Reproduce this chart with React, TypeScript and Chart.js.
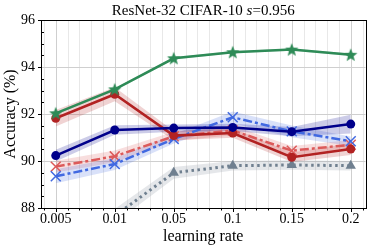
import React, { useEffect, useRef } from 'react';
import { Chart, registerables } from 'chart.js';

Chart.register(...registerables);

const SERIF = "'Liberation Serif', 'DejaVu Serif', 'Times New Roman', serif";

const categories = ['0.005', '0.01', '0.05', '0.1', '0.15', '0.2'];
const yTickValues = [88, 90, 92, 94, 96];

const greenMean = [92.03, 93.05, 94.37, 94.63, 94.74, 94.52];
const greenStd = [0.05, 0.05, 0.05, 0.05, 0.05, 0.05];

const redMean = [91.82, 92.84, 91.08, 91.19, 90.16, 90.51];
const redStd = [0.35, 0.3, 0.2, 0.2, 0.2, 0.25];

const navyMean = [90.23, 91.32, 91.4, 91.43, 91.25, 91.57];
const navyStd = [0.25, 0.2, 0.15, 0.15, 0.2, 0.4];

const blueMean = [89.35, 89.87, 90.94, 91.86, 91.26, 90.84];
const blueStd = [0.3, 0.25, 0.2, 0.25, 0.25, 0.2];

const lightRedMean = [89.76, 90.2, 91.05, 91.3, 90.44, 90.69];
const lightRedStd = [0.25, 0.25, 0.2, 0.2, 0.2, 0.2];

const grayMean = [86.5, 87.66, 89.5, 89.8, 89.83, 89.8];
const grayStd = [0.3, 0.3, 0.25, 0.2, 0.2, 0.2];

function makeStar(color: string, outer: number, inner: number) {
  const c = document.createElement('canvas');
  const s = Math.ceil(outer * 2 + 2);
  c.width = s;
  c.height = s;
  const ctx = c.getContext('2d')!;
  ctx.translate(s / 2, s / 2 + 0.5);
  ctx.beginPath();
  for (let i = 0; i < 10; i++) {
    const r = i % 2 === 0 ? outer : inner;
    const a = -Math.PI / 2 + (i * Math.PI) / 5;
    const x = r * Math.cos(a);
    const y = r * Math.sin(a);
    if (i === 0) ctx.moveTo(x, y);
    else ctx.lineTo(x, y);
  }
  ctx.closePath();
  ctx.fillStyle = color;
  ctx.fill();
  return c;
}

type Series = {
  mean: number[];
  std: number[];
  color: string;
  band: string;
  dash: number[];
  pointStyle: any;
  radius: number;
  pointBorder: number;
  width: number;
  order: number;
};

function buildDatasets(series: Series[]) {
  const ds: any[] = [];
  series.forEach((s) => {
    const upper = s.mean.map((m, i) => ({ x: i, y: m + s.std[i] }));
    const lower = s.mean.map((m, i) => ({ x: i, y: m - s.std[i] }));
    ds.push({
      data: upper,
      borderWidth: 0,
      borderColor: 'transparent',
      pointRadius: 0,
      fill: false,
      order: 100 + s.order,
    });
    ds.push({
      data: lower,
      borderWidth: 0,
      borderColor: 'transparent',
      pointRadius: 0,
      fill: '-1',
      backgroundColor: s.band,
      order: 100 + s.order,
    });
    ds.push({
      data: s.mean.map((m, i) => ({ x: i, y: m })),
      borderColor: s.color,
      backgroundColor: s.color,
      borderWidth: s.width,
      borderDash: s.dash,
      pointStyle: s.pointStyle,
      pointRadius: s.radius,
      pointBorderWidth: s.pointBorder,
      pointBorderColor: s.color,
      pointBackgroundColor: s.color,
      fill: false,
      order: s.order,
    });
  });
  return ds;
}

const gridPlugin = {
  id: 'mplGrid',
  beforeDatasetsDraw(chart: any) {
    const { ctx, chartArea: a, scales } = chart;
    const xs = scales.x;
    const ys = scales.y;
    ctx.save();
    ctx.strokeStyle = '#e8e8e8';
    ctx.lineWidth = 1;
    for (let i = -1; i <= categories.length; i++) {
      for (let k = 1; k < 5; k++) {
        const v = i + k / 5;
        if (v <= xs.min || v >= xs.max) continue;
        const px = Math.round(xs.getPixelForValue(v)) + 0.5;
        ctx.beginPath();
        ctx.moveTo(px, a.top);
        ctx.lineTo(px, a.bottom);
        ctx.stroke();
      }
    }
    ctx.strokeStyle = '#cfcfcf';
    categories.forEach((_, i) => {
      const px = Math.round(xs.getPixelForValue(i)) + 0.5;
      ctx.beginPath();
      ctx.moveTo(px, a.top);
      ctx.lineTo(px, a.bottom);
      ctx.stroke();
    });
    yTickValues.forEach((v) => {
      const py = Math.round(ys.getPixelForValue(v)) + 0.5;
      ctx.beginPath();
      ctx.moveTo(a.left, py);
      ctx.lineTo(a.right, py);
      ctx.stroke();
    });
    ctx.restore();
  },
  afterDatasetsDraw(chart: any) {
    const { ctx, chartArea: a, scales } = chart;
    const xs = scales.x;
    const ys = scales.y;
    ctx.save();
    ctx.strokeStyle = '#000';
    ctx.lineWidth = 1;
    const L = Math.round(a.left) + 0.5;
    const R = Math.round(a.right) + 0.5;
    const T = Math.round(a.top) + 0.5;
    const B = Math.round(a.bottom) + 0.5;
    ctx.strokeRect(L, T, R - L, B - T);
    for (let v = yTickValues[0]; v <= yTickValues[yTickValues.length - 1] + 1e-6; v += 0.5) {
      const py = Math.round(ys.getPixelForValue(v)) + 0.5;
      const major = Math.abs(v - Math.round(v / 2) * 2) < 1e-6;
      ctx.beginPath();
      if (major) {
        ctx.moveTo(L - 3.5, py);
        ctx.lineTo(L, py);
      } else {
        ctx.moveTo(L, py);
        ctx.lineTo(L + 2.5, py);
      }
      ctx.stroke();
    }
    for (let i = -1; i <= categories.length; i++) {
      for (let k = 0; k < 5; k++) {
        const v = i + k / 5;
        if (v < xs.min || v > xs.max) continue;
        const px = Math.round(xs.getPixelForValue(v)) + 0.5;
        ctx.beginPath();
        ctx.moveTo(px, B);
        ctx.lineTo(px, B + (k === 0 ? 3.5 : 2));
        ctx.stroke();
      }
    }
    const cx = (a.left + a.right) / 2;
    const parts = [
      { t: 'ResNet-32 CIFAR-10 ', f: '15px ' + SERIF },
      { t: 's', f: 'italic 15px ' + SERIF },
      { t: '=0.956', f: '15px ' + SERIF },
    ];
    let total = 0;
    parts.forEach((p) => {
      ctx.font = p.f;
      total += ctx.measureText(p.t).width;
    });
    let x = cx - total / 2;
    ctx.fillStyle = '#000';
    ctx.textBaseline = 'alphabetic';
    ctx.textAlign = 'left';
    parts.forEach((p) => {
      ctx.font = p.f;
      ctx.fillText(p.t, x, 15);
      x += ctx.measureText(p.t).width;
    });
    ctx.restore();
  },
};

export default function App() {
  const ref = useRef<HTMLCanvasElement | null>(null);
  useEffect(() => {
    document.body.style.margin = '0';
    const star = makeStar('#2e8b57', 7, 3);
    const series: Series[] = [
      { mean: greenMean, std: greenStd, color: '#2e8b57', band: 'rgba(46,139,87,0.2)', dash: [], pointStyle: star, radius: 7, pointBorder: 0, width: 2.5, order: 0 },
      { mean: navyMean, std: navyStd, color: '#00008b', band: 'rgba(0,0,139,0.2)', dash: [], pointStyle: 'circle', radius: 4.5, pointBorder: 0, width: 2.5, order: 1 },
      { mean: redMean, std: redStd, color: '#b22222', band: 'rgba(178,34,34,0.2)', dash: [], pointStyle: 'circle', radius: 4.5, pointBorder: 0, width: 2.5, order: 2 },
      { mean: blueMean, std: blueStd, color: '#4169e1', band: 'rgba(65,105,225,0.2)', dash: [9, 3, 3, 3], pointStyle: 'crossRot', radius: 7, pointBorder: 1.5, width: 2.5, order: 3 },
      { mean: lightRedMean, std: lightRedStd, color: '#dc5a5a', band: 'rgba(220,90,90,0.2)', dash: [9, 3, 3, 3], pointStyle: 'crossRot', radius: 7, pointBorder: 1.5, width: 2.5, order: 4 },
      { mean: grayMean, std: grayStd, color: '#708090', band: 'rgba(150,160,170,0.25)', dash: [2.5, 3.5], pointStyle: 'triangle', radius: 6, pointBorder: 0, width: 3, order: 5 },
    ];
    const chart = new Chart(ref.current!, {
      type: 'line',
      data: { datasets: buildDatasets(series) },
      options: {
        animation: false,
        responsive: false,
        layout: { padding: { top: 20, right: 5, left: 0, bottom: 0 } },
        plugins: { legend: { display: false }, title: { display: false }, tooltip: { enabled: false } },
        scales: {
          x: {
            type: 'linear',
            min: -0.25,
            max: 5.25,
            grid: { display: false, drawTicks: false, tickLength: 0 },
            border: { display: false },
            afterFit: (s: any) => { s.height = 41; },
            afterBuildTicks: (s: any) => { s.ticks = categories.map((_, i) => ({ value: i })); },
            ticks: {
              autoSkip: false,
              maxRotation: 0,
              padding: 3,
              color: '#000',
              font: { family: SERIF, size: 14 },
              callback: (v: any) => categories[Math.round(Number(v))] ?? '',
            },
            title: { display: true, text: 'learning rate', color: '#000', font: { family: SERIF, size: 16 }, padding: { top: 0, bottom: 3 } },
          },
          y: {
            type: 'linear',
            min: 88,
            max: 96,
            grid: { display: false, drawTicks: false, tickLength: 0 },
            border: { display: false },
            afterFit: (s: any) => { s.width = 41; },
            afterBuildTicks: (s: any) => { s.ticks = yTickValues.map((v) => ({ value: v })); },
            ticks: {
              padding: 6,
              color: '#000',
              font: { family: SERIF, size: 14 },
              callback: (v: any) => String(v),
            },
            title: { display: true, text: 'Accuracy (%)', color: '#000', font: { family: SERIF, size: 16 }, padding: { top: 1, bottom: 0 } },
          },
        },
      },
      plugins: [gridPlugin],
    });
    return () => chart.destroy();
  }, []);
  return <canvas ref={ref} width={374} height={249} style={{ display: 'block', width: 374, height: 249 }} />;
}
